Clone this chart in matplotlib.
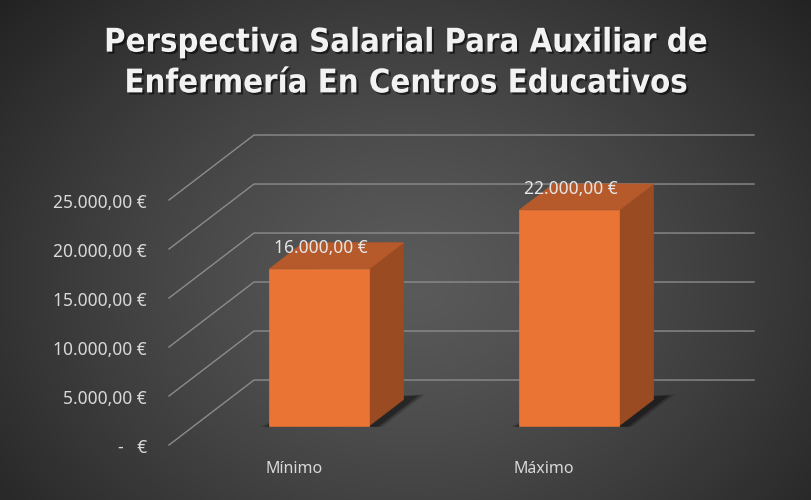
import numpy as np
import matplotlib.pyplot as plt
import matplotlib.patheffects as pe
from matplotlib.patches import Polygon

categories = ["Mínimo", "Máximo"]
salaries = [16000, 22000]
value_labels = ["16.000,00 €", "22.000,00 €"]
tick_values = [0, 5000, 10000, 15000, 20000, 25000]
tick_labels = ["-   €", "5.000,00 €", "10.000,00 €", "15.000,00 €", "20.000,00 €", "25.000,00 €"]
title = "Perspectiva Salarial Para Auxiliar de\nEnfermería En Centros Educativos"

# oblique projection of the depth axis (in data units)
DX = 0.34
DY = 6630
BAR_W = 0.4
D0, D1 = 0.3, 0.7

FRONT = "#E97434"
TOP = "#B65A2B"
SIDE = "#9B4B21"


def proj(x, v, d):
    return (x + DX * d, v + DY * d)


fig = plt.figure(figsize=(8.12, 5.00), dpi=100)

# background radial gradient
bg = fig.add_axes([0, 0, 1, 1], zorder=0)
h, w = 500, 812
yy, xx = np.mgrid[0:h, 0:w]
r = np.sqrt(((xx - 410) / 540.0) ** 2 + ((yy - 280) / 430.0) ** 2)
t = np.clip(r, 0, 1) ** 1.3
c_in, c_out = 0x5a / 255, 0x22 / 255
g = c_in * (1 - t) + c_out * t
bg.imshow(np.dstack([g, g, g]), extent=(0, 1, 0, 1), aspect="auto")
bg.axis("off")

ax = fig.add_axes([0, 0, 1, 1], zorder=1)
ax.patch.set_alpha(0)
ax.set_xlim(-1.176, 2.072)
ax.set_ylim(-5612, 45408)
ax.axis("off")

# gridlines: front-left diagonal then horizontal along back wall
for v in tick_values:
    p0 = proj(-0.5, v, 0)
    p1 = proj(-0.5, v, 1)
    p2 = proj(1.5, v, 1)
    ax.plot([p0[0], p1[0], p2[0]], [p0[1], p1[1], p2[1]],
            color="#8c8c8c", lw=1.0, zorder=2, solid_joinstyle="miter")

for v, lab in zip(tick_values, tick_labels):
    x, y = proj(-0.588, v, 0)
    ax.text(x, y - 300, lab, ha="right", va="center", color="#d9d9d9",
            fontsize=12.5, family="Noto Sans", zorder=3)

for i, (cat, val, lab) in enumerate(zip(categories, salaries, value_labels)):
    xl = i - BAR_W / 2
    xr = i + BAR_W / 2

    # soft floor shadow
    for k, a in enumerate([0.12, 0.18, 0.3]):
        grow = 0.03 - k * 0.01
        shadow = [proj(xl - grow, 0, D0 - 0.02),
                  proj(xr + 0.03 + grow, 0, D0 - 0.02),
                  proj(xr + 0.03 + grow, 0, D1 + 0.05 + grow),
                  proj(xl + 0.05, 0, D1)]
        ax.add_patch(Polygon(shadow, closed=True, facecolor="black",
                             edgecolor="none", alpha=a, zorder=3))

    front = [proj(xl, 0, D0), proj(xr, 0, D0), proj(xr, val, D0), proj(xl, val, D0)]
    top = [proj(xl, val, D0), proj(xr, val, D0), proj(xr, val, D1), proj(xl, val, D1)]
    side = [proj(xr, 0, D0), proj(xr, 0, D1), proj(xr, val, D1), proj(xr, val, D0)]
    ax.add_patch(Polygon(side, closed=True, facecolor=SIDE, edgecolor=SIDE, lw=0.5, zorder=4))
    ax.add_patch(Polygon(top, closed=True, facecolor=TOP, edgecolor=TOP, lw=0.5, zorder=4))
    ax.add_patch(Polygon(front, closed=True, facecolor=FRONT, edgecolor=FRONT, lw=0.5, zorder=5))

    lx, ly = proj(i, val, 0)
    ax.text(lx + DX * 0.32, ly + DY * 0.62, lab, ha="center", va="center",
            color="#e6e6e6", fontsize=12.5, family="Noto Sans", zorder=6)

    cx, cy = proj(i, 0, 0)
    ax.text(cx, cy - 2450, cat, ha="center", va="center", color="#d9d9d9",
            fontsize=11.5, family="Noto Sans", zorder=6)

fig.text(0.5, 0.875, title, ha="center", va="center", color="#f2f2f2",
         fontsize=23.5, fontweight="bold", fontstretch="condensed", family="DejaVu Sans",
         linespacing=1.3,
         path_effects=[pe.withSimplePatchShadow(offset=(1.5, -1.5), shadow_rgbFace="black", alpha=0.55)])

fig.savefig("out.png", dpi=100)
